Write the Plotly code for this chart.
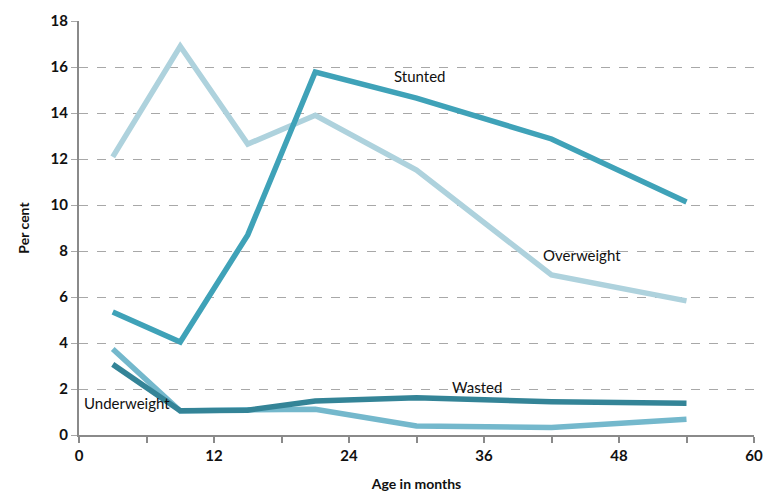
import plotly.graph_objects as go

ages = [3, 9, 15, 21, 30, 42, 54]
stunted = [5.35, 4.04, 8.7, 15.78, 14.65, 12.87, 10.13]
overweight = [12.09, 16.9, 12.65, 13.9, 11.52, 6.96, 5.83]
wasted = [3.07, 1.05, 1.08, 1.48, 1.62, 1.45, 1.38]
underweight = [3.74, 1.04, 1.1, 1.12, 0.39, 0.33, 0.68]

x_ticks = [0, 12, 24, 36, 48, 60]
y_ticks = [0, 2, 4, 6, 8, 10, 12, 14, 16, 18]

series = [
    ("Overweight", overweight, "#aed2dd"),
    ("Stunted", stunted, "#3fa2b8"),
    ("Underweight", underweight, "#74b8cc"),
    ("Wasted", wasted, "#348497"),
]

fig = go.Figure()
for name, vals, col in series:
    fig.add_trace(go.Scatter(x=ages, y=vals, mode="lines", name=name,
                             line=dict(color=col, width=5.5), showlegend=False))

labels = [("Stunted", 30.3, 15.6), ("Overweight", 44.7, 7.83),
          ("Wasted", 35.4, 2.09), ("Underweight", 4.27, 1.39)]
for t, x, y in labels:
    fig.add_annotation(x=x, y=y, text=t, showarrow=False,
                       font=dict(family="Lato", size=15, color="#111"))

fig.update_layout(
    width=765, height=496,
    margin=dict(l=79, r=11, t=21, b=61),
    paper_bgcolor="white", plot_bgcolor="white",
    font=dict(family="Lato", color="#111"),
)
fig.update_xaxes(range=[0, 60], tickvals=x_ticks, ticktext=["<b>%d</b>" % v for v in x_ticks],
                 automargin=False,
                 showgrid=False, zeroline=False, showline=True, linecolor="#8a8a8a", linewidth=2,
                 ticks="outside", ticklen=6, tickcolor="#8a8a8a", tickwidth=1.5,
                 minor=dict(dtick=6, ticks="outside", ticklen=6, tickcolor="#8a8a8a", showgrid=False),
                 tickfont=dict(size=15, family="Lato"),
                 title=dict(text="<b>Age in months</b>", font=dict(size=14, family="Lato"), standoff=16))
fig.update_yaxes(range=[0, 18], tickvals=y_ticks, ticktext=["<b>%d</b>" % v for v in y_ticks],
                 automargin=False,
                 showgrid=True, gridcolor="#a8a8a8", griddash="dash", gridwidth=1.2,
                 zeroline=False, showline=True, linecolor="#8a8a8a", linewidth=2,
                 ticks="outside", ticklen=6, tickcolor="#a8a8a8",
                 tickfont=dict(size=15, family="Lato"),
                 title=dict(text="<b>Per cent</b>", font=dict(size=14, family="Lato"), standoff=18))

fig.write_html("out.html", config={"displayModeBar": False},
               post_script="document.body.style.margin='0';document.body.style.overflow='hidden';")
